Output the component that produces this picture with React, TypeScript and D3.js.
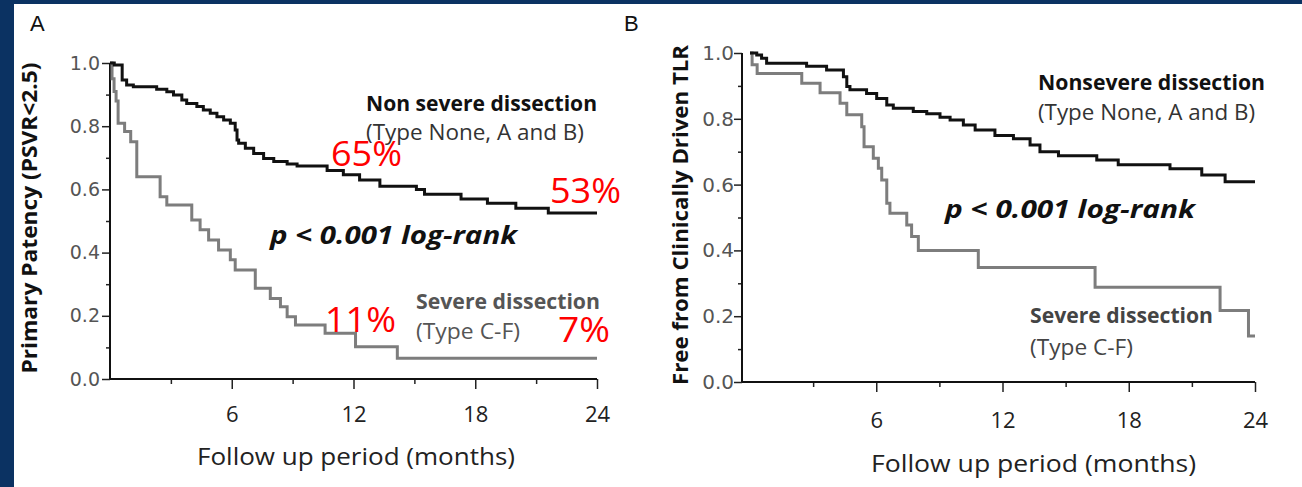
import React, { useEffect, useRef } from 'react';
import * as d3 from 'd3';

const W = 1302;
const H = 487;
const NAVY = '#0b3262';

// Panel A: primary patency (PSVR<2.5), Kaplan-Meier steps (month, survival)
const patencyNonSevereMonths = [0, 0.21, 0.6, 0.82, 1.15, 2.3, 2.8, 3.13, 3.54, 3.78, 4.28, 4.6, 4.94, 5.27, 5.6, 5.93, 6.17, 6.26, 6.34, 6.67, 7.08, 7.57, 8.07, 8.73, 9.22, 10.7, 11.5, 12.3, 13.3, 15.1, 15.5, 17.3, 18.6, 20.0, 21.6];
const patencyNonSevereValues = [1.0, 0.994, 0.946, 0.93, 0.925, 0.917, 0.909, 0.899, 0.883, 0.872, 0.862, 0.851, 0.841, 0.83, 0.82, 0.809, 0.788, 0.756, 0.746, 0.73, 0.714, 0.698, 0.688, 0.68, 0.674, 0.66, 0.646, 0.63, 0.61, 0.6, 0.585, 0.57, 0.556, 0.54, 0.525];
const patencySevereMonths = [0, 0.1, 0.2, 0.3, 0.4, 0.72, 1.02, 1.32, 2.47, 2.8, 4.03, 4.44, 4.86, 5.35, 5.93, 6.17, 7.16, 7.9, 8.4, 8.73, 9.14, 10.6, 12.1, 14.16];
const patencySevereValues = [1.0, 0.95, 0.91, 0.88, 0.809, 0.783, 0.751, 0.64, 0.577, 0.551, 0.503, 0.472, 0.44, 0.408, 0.377, 0.345, 0.287, 0.255, 0.229, 0.197, 0.171, 0.145, 0.102, 0.066];
const patencyPercents = ['65%', '53%', '11%', '7%'];

// Panel B: freedom from clinically driven TLR
const tlrNonSevereMonths = [0, 0.32, 0.55, 0.79, 2.69, 3.64, 4.44, 4.6, 4.75, 5.54, 6.02, 6.5, 6.81, 7.76, 8.4, 9.03, 9.51, 10.14, 10.7, 11.64, 12.52, 13.31, 13.78, 14.66, 16.48, 17.5, 19.96, 21.47, 22.58];
const tlrNonSevereValues = [1.0, 0.994, 0.984, 0.969, 0.96, 0.948, 0.928, 0.898, 0.888, 0.877, 0.862, 0.842, 0.832, 0.822, 0.815, 0.805, 0.796, 0.781, 0.766, 0.749, 0.739, 0.72, 0.7, 0.688, 0.675, 0.66, 0.648, 0.629, 0.609];
const tlrSevereMonths = [0, 0.1, 0.34, 2.46, 3.33, 4.28, 4.6, 5.31, 5.42, 5.86, 6.1, 6.26, 6.5, 6.65, 7.45, 7.68, 8.0, 10.85, 16.4, 22.34, 23.69];
const tlrSevereValues = [1.0, 0.964, 0.938, 0.908, 0.879, 0.847, 0.812, 0.776, 0.715, 0.68, 0.65, 0.614, 0.543, 0.513, 0.477, 0.442, 0.4, 0.348, 0.288, 0.217, 0.14];

const xMajorTicks = [6, 12, 18, 24];
const xMinorTicks = [3, 9, 15, 21];
const yMajorTicks = [0, 0.2, 0.4, 0.6, 0.8, 1.0];
const yMinorTicks = [0.1, 0.3, 0.5, 0.7, 0.9];
const maxMonth = 24;

const SANS = "'Open Sans', 'Noto Sans', sans-serif";

const steps = (months, values) => {
  const pts = months.map((m, i) => ({ m, v: values[i] }));
  pts.push({ m: maxMonth, v: values[values.length - 1] });
  return pts;
};

const addText = (g, str, x, y, o = {}) => {
  const t = g.append('text')
    .attr('x', x).attr('y', y)
    .attr('font-family', SANS)
    .attr('font-size', o.size || 21)
    .attr('font-weight', o.weight || 'normal')
    .attr('font-style', o.style || 'normal')
    .attr('fill', o.fill || '#111')
    .attr('text-anchor', o.anchor || 'start')
    .text(str);
  if (o.len) t.attr('textLength', o.len).attr('lengthAdjust', 'spacingAndGlyphs');
  return t;
};

const drawPanel = (svg, p) => {
  const x = d3.scaleLinear().domain([0, maxMonth]).range([p.x0, p.x1]);
  const y = d3.scaleLinear().domain([0, 1]).range([p.y0, p.y1]);
  const g = svg.append('g');

  // y axis, major + minor ticks
  const yAxis = g.append('g')
    .attr('transform', `translate(${p.axisX},0)`)
    .call(d3.axisLeft(y).tickValues(yMajorTicks).tickFormat(d3.format('.1f')).tickSize(8).tickPadding(p.yPad).tickSizeOuter(0));
  yAxis.select('.domain').remove();
  yAxis.attr('font-family', "'DejaVu Sans', Verdana, sans-serif").attr('font-size', p.yTickSize);
  yAxis.selectAll('line').attr('stroke', '#222').attr('stroke-width', 1.5);
  yAxis.selectAll('text').attr('fill', '#555');

  const yMinor = g.append('g')
    .attr('transform', `translate(${p.axisX},0)`)
    .call(d3.axisLeft(y).tickValues(yMinorTicks).tickFormat(() => '').tickSize(4).tickSizeOuter(0));
  yMinor.select('.domain').remove();
  yMinor.selectAll('line').attr('stroke', '#222').attr('stroke-width', 1.5);

  // x axis, major + minor ticks
  const xAxis = g.append('g')
    .attr('transform', `translate(0,${y(0)})`)
    .call(d3.axisBottom(x).tickValues(xMajorTicks).tickSize(10).tickSizeOuter(0));
  xAxis.select('.domain').remove();
  xAxis.attr('font-family', SANS).attr('font-size', 22);
  xAxis.selectAll('line').attr('stroke', '#222').attr('stroke-width', 1.5);
  xAxis.selectAll('text').attr('y', p.xLabelOffset).attr('dy', 0).attr('fill', '#222');

  const xMinor = g.append('g')
    .attr('transform', `translate(0,${y(0)})`)
    .call(d3.axisBottom(x).tickValues(xMinorTicks).tickFormat(() => '').tickSize(5).tickSizeOuter(0));
  xMinor.select('.domain').remove();
  xMinor.selectAll('line').attr('stroke', '#222').attr('stroke-width', 1.5);

  // axis lines
  g.append('line')
    .attr('x1', p.axisX).attr('x2', p.axisX)
    .attr('y1', y(0)).attr('y2', y(1))
    .attr('stroke', '#111').attr('stroke-width', 2);
  g.append('line')
    .attr('x1', p.axisX).attr('x2', x(maxMonth))
    .attr('y1', y(0)).attr('y2', y(0))
    .attr('stroke', '#111').attr('stroke-width', 2);

  // curves
  const line = d3.line().x(d => x(d.m)).y(d => y(d.v)).curve(d3.curveStepAfter);
  g.append('path')
    .datum(steps(p.severe[0], p.severe[1]))
    .attr('fill', 'none').attr('stroke', '#7d7d7d').attr('stroke-width', 3)
    .attr('d', line);
  g.append('path')
    .datum(steps(p.nonSevere[0], p.nonSevere[1]))
    .attr('fill', 'none').attr('stroke', '#111').attr('stroke-width', 3)
    .attr('d', line);

  // titles
  addText(g, p.letter, p.letterX, 31, { size: 22, fill: '#111' })
    .attr('font-family', "'Liberation Sans', Arial, sans-serif");
  addText(g, p.xTitle, p.xTitleX, p.xTitleY, { size: 24, fill: '#222', len: p.xTitleLen });
  addText(g, p.yTitle, 0, 0, { size: 21, weight: 'bold', fill: '#111', anchor: 'middle', len: p.yTitleLen })
    .attr('transform', `translate(${p.yTitleX},${p.yTitleCy}) rotate(-90)`);
};

const App = () => {
  const svgRef = useRef(null);

  useEffect(() => {
    const svg = d3.select(svgRef.current);
    svg.selectAll('*').remove();

    svg.append('rect').attr('width', W).attr('height', H).attr('fill', '#fff');
    svg.append('rect').attr('width', W).attr('height', 4).attr('fill', NAVY);
    svg.append('rect').attr('width', 14).attr('height', H).attr('fill', NAVY);

    drawPanel(svg, {
      letter: 'A', letterX: 30,
      x0: 110, x1: 597, y0: 379, y1: 63, axisX: 110,
      yTickSize: 19, yPad: 2, xLabelOffset: 43,
      xTitle: 'Follow up period (months)', xTitleX: 197, xTitleY: 465, xTitleLen: 318,
      yTitle: 'Primary Patency (PSVR<2.5)', yTitleX: 37, yTitleCy: 218, yTitleLen: 311,
      nonSevere: [patencyNonSevereMonths, patencyNonSevereValues],
      severe: [patencySevereMonths, patencySevereValues],
    });
    drawPanel(svg, {
      letter: 'B', letterX: 624,
      x0: 750, x1: 1255, y0: 382, y1: 53, axisX: 742,
      yTickSize: 20, yPad: 0, xLabelOffset: 46,
      xTitle: 'Follow up period (months)', xTitleX: 871, xTitleY: 472, xTitleLen: 325,
      yTitle: 'Free from Clinically Driven TLR', yTitleX: 688, yTitleCy: 215, yTitleLen: 340,
      nonSevere: [tlrNonSevereMonths, tlrNonSevereValues],
      severe: [tlrSevereMonths, tlrSevereValues],
    });

    // panel A annotations
    addText(svg, 'Non severe dissection', 366, 111, { weight: 'bold', len: 231 });
    addText(svg, '(Type None, A and B)', 366, 140, { fill: '#333', len: 218 });
    addText(svg, 'p < 0.001 log-rank', 270, 244, { size: 25, weight: 'bold', style: 'italic', len: 247 });
    addText(svg, 'Severe dissection', 416, 309, { weight: 'bold', fill: '#555', len: 184 });
    addText(svg, '(Type C-F)', 416, 339, { fill: '#555', len: 104 });
    const redAt = [[331, 166], [550, 203], [325, 332], [558, 342]];
    patencyPercents.forEach((s, i) => {
      addText(svg, s, redAt[i][0], redAt[i][1], { size: 35, fill: '#ff0000', len: s.length === 3 ? 71 : 52 });
    });

    // panel B annotations
    addText(svg, 'Nonsevere dissection', 1038, 90, { weight: 'bold', len: 227 });
    addText(svg, '(Type None, A and B)', 1038, 120, { fill: '#333', len: 217 });
    addText(svg, 'p < 0.001 log-rank', 945, 218, { size: 25, weight: 'bold', style: 'italic', len: 250 });
    addText(svg, 'Severe dissection', 1030, 323, { weight: 'bold', fill: '#444', len: 183 });
    addText(svg, '(Type C-F)', 1030, 355, { fill: '#444', len: 103 });
  }, []);

  return (
    <div style={{ position: 'absolute', left: 0, top: 0 }}>
      <svg ref={svgRef} width={W} height={H} style={{ display: 'block' }}></svg>
    </div>
  );
};

export default App;
